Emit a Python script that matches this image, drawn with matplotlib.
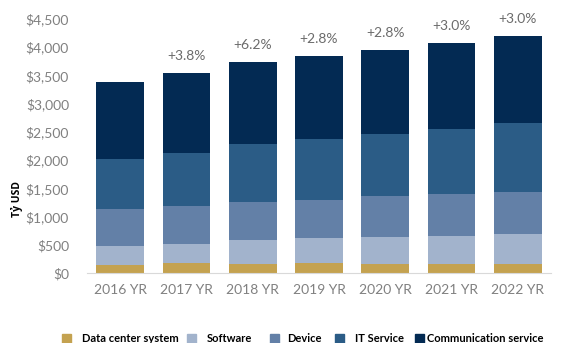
import numpy as np
import matplotlib.pyplot as plt
from matplotlib.patches import Rectangle

plt.rcParams['font.family'] = ['Lato', 'DejaVu Sans']

# Số liệu (tỷ USD)
years = ['2016 YR', '2017 YR', '2018 YR', '2019 YR', '2020 YR', '2021 YR', '2022 YR']
data_center = [140, 175, 160, 185, 165, 160, 160]
software = [335, 340, 425, 430, 475, 495, 535]
device = [650, 670, 680, 680, 730, 745, 740]
it_service = [890, 935, 1020, 1080, 1090, 1145, 1220]
communication = [1365, 1420, 1450, 1460, 1490, 1525, 1545]
growth = ['', '+3.8%', '+6.2%', '+2.8%', '+2.8%', '+3.0%', '+3.0%']

series = [
    ('Data center system', data_center, '#C4A250'),
    ('Software', software, '#A2B3CC'),
    ('Device', device, '#6380A7'),
    ('IT Service', it_service, '#2B5C86'),
    ('Communication service', communication, '#032A53'),
]

W, H = 565, 343
fig = plt.figure(figsize=(W / 100, H / 100), dpi=100)
ax = fig.add_axes([0.154, 0.204, 0.821, 0.741])

x = np.arange(len(years))
bottom = np.zeros(len(years))
for name, vals, color in series:
    ax.bar(x, vals, width=0.72, bottom=bottom, color=color, label=name)
    bottom += np.array(vals)

# Nhãn tăng trưởng trên đỉnh cột
for i, g in enumerate(growth):
    if g:
        ax.text(x[i], bottom[i] + 200, g, ha='center', va='bottom',
                fontsize=10, color='#6b6b6b')

ax.set_xlim(-0.5, 6.5)
ax.set_ylim(0, 4500)
ax.set_yticks(np.arange(0, 4501, 500))
ax.set_yticklabels(['${:,}'.format(v) for v in range(0, 4501, 500)])
ax.set_xticks(x)
ax.set_xticklabels(years)
ax.tick_params(axis='both', length=0, colors='#808080', labelsize=10)
ax.tick_params(axis='y', pad=13)
ax.tick_params(axis='x', pad=8)
for s in ['top', 'right', 'left']:
    ax.spines[s].set_visible(False)
ax.spines['bottom'].set_color('#d9d9d9')

fig.text(0.03, 0.42, 'Tỷ USD', rotation=90, ha='center', va='center',
         fontsize=7.5, fontweight='bold', color='black',
         family=['Open Sans', 'DejaVu Sans'])

# Chú thích đặt thủ công (vị trí ô màu và chữ, tính theo pixel)
box_x = [62, 187, 270, 335, 415]
text_x = [82, 207, 287, 355, 427]
y_mid = H - 338
for (name, vals, color), bx, tx in zip(series, box_x, text_x):
    fig.patches.append(Rectangle((bx / W, (y_mid - 4.5) / H), 9 / W, 9 / H,
                                 transform=fig.transFigure, color=color))
    fig.text(tx / W, y_mid / H, name, ha='left', va='center',
             fontsize=8, fontweight='bold', color='black')

fig.savefig('out.png', dpi=100)
